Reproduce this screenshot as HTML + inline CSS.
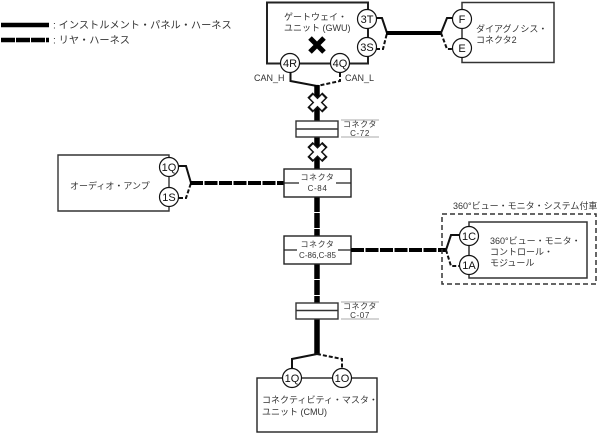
<!DOCTYPE html>
<html><head><meta charset="utf-8"><style>
html,body{margin:0;padding:0;background:#fff}
svg{display:block}
text{font-family:"Liberation Sans","Noto Sans CJK JP",sans-serif;font-size:9px;fill:#333}
.c{fill:#fff;stroke:#111;stroke-width:1.2}
.l{fill:none;stroke:#111;stroke-width:2}
.d{fill:none;stroke:#111;stroke-width:2;stroke-dasharray:4 2}
.t{fill:none;stroke:#000;stroke-width:4}
.td{fill:none;stroke:#000;stroke-width:4.5;stroke-dasharray:13 1.5}
.v{fill:none;stroke:#000;stroke-width:5.5}
.vd{fill:none;stroke:#000;stroke-width:5.5;stroke-dasharray:15 1}
.g{stroke:#aaa;stroke-width:1}
.m{text-anchor:middle}
.s{font-size:8px;letter-spacing:.6px}
.n{font-size:11px;text-anchor:middle;fill:#111}
.xo{stroke:#111;stroke-width:7.5;fill:none}
.xi{stroke:#fff;stroke-width:4.5;fill:none}
</style></head><body>
<svg width="602" height="433" viewBox="0 0 602 433" xmlns="http://www.w3.org/2000/svg">
<line x1="1" y1="25" x2="49" y2="25" class="t" style="stroke-width:4.5"/>
<line x1="1" y1="40" x2="49" y2="40" class="td" style="stroke-dasharray:14 1"/>
<text x="53" y="28.500" style="font-size:10.200px">: インストルメント・パネル・ハーネス</text>
<text x="53" y="43.500" style="font-size:10.200px">: リヤ・ハーネス</text>

<!-- GWU -->
<rect x="267" y="2.500" width="101" height="61" fill="#fff" stroke="#222" stroke-width="2"/>
<text x="284" y="20">ゲートウェイ・</text>
<text x="284" y="31">ユニット (GWU)</text>
<path d="M310 38 L324 52 M324 38 L310 52" stroke="#000" stroke-width="5" fill="none"/>
<path d="M376 18 H382 L387 33" class="l"/>
<path d="M376 49 H383 L387 33" class="d"/>
<line x1="386" y1="33" x2="442" y2="33" class="t"/>
<circle cx="367" cy="19" r="9.500" class="c"/><text x="367" y="23" class="n">3T</text>
<circle cx="367" cy="47" r="9.500" class="c"/><text x="367" y="51" class="n">3S</text>
<circle cx="290" cy="63" r="9.500" class="c"/><text x="290" y="67" class="n">4R</text>
<circle cx="340" cy="63" r="9.500" class="c"/><text x="340" y="67" class="n">4Q</text>
<text x="254" y="81">CAN_H</text>
<text x="345" y="81">CAN_L</text>
<path d="M290.500 73 V81 L317 86" class="l"/>
<path d="M340 73 V81 L317 86" class="d"/>
<line x1="317" y1="85" x2="317" y2="121" class="v"/>
<line x1="317" y1="137" x2="317" y2="169" class="v"/>
<path d="M310 95 L325 110 M325 95 L310 110" class="xo"/>
<path d="M311.500 96.500 L323.500 108.500 M323.500 96.500 L311.500 108.500" class="xi"/>
<path d="M310 144.500 L325 159.500 M325 144.500 L310 159.500" class="xo"/>
<path d="M311.500 146 L323.500 158 M323.500 146 L311.500 158" class="xi"/>

<!-- Diagnosis -->
<path d="M462 2.500 H554 V62.500 H462 Z" fill="#fff" stroke="#333" stroke-width="1.500"/>
<path d="M441 33 L447 18 H454" class="l"/>
<path d="M441 33 L447 49 H454" class="d"/>
<circle cx="462" cy="19" r="9.500" class="c"/><text x="462" y="23" class="n">F</text>
<circle cx="462" cy="48" r="9.500" class="c"/><text x="462" y="52" class="n">E</text>
<text x="476" y="32">ダイアグノシス・</text>
<text x="476" y="43">コネクタ2</text>

<!-- C-72 -->
<rect x="296" y="121" width="42" height="16" fill="#fff" stroke="#333" stroke-width="1.400"/>
<line x1="296" y1="129" x2="338" y2="129" stroke="#333" stroke-width="1.400"/>
<line x1="341" y1="120" x2="379" y2="120" class="g"/><line x1="341" y1="137" x2="379" y2="137" class="g"/>
<text x="360" y="127" class="m s">コネクタ</text>
<text x="360" y="136" class="m s">C-72</text>

<!-- Audio -->
<path d="M169 155 H58 V211 H169 Z" fill="#fff" stroke="#333" stroke-width="1.400"/>
<text x="70" y="189">オーディオ・アンプ</text>
<path d="M179 166 H186 L191 183" class="l"/>
<path d="M179 198 H186 L191 183" class="d"/>
<line x1="190" y1="183" x2="284" y2="183" class="td" style="stroke-width:4"/>
<circle cx="169" cy="167" r="9.500" class="c"/><text x="169" y="171" class="n">1Q</text>
<circle cx="169" cy="197" r="9.500" class="c"/><text x="169" y="201" class="n">1S</text>

<line x1="317" y1="197" x2="317" y2="236" class="vd"/>
<line x1="317" y1="264" x2="317" y2="303" class="vd"/>
<line x1="317" y1="319" x2="317" y2="355" class="v"/>

<!-- C-84 -->
<rect x="284" y="169" width="67" height="28" fill="#fff" stroke="#222" stroke-width="1.400"/>
<path d="M284 183 H299 M336 183 H351" stroke="#222" stroke-width="1.200"/>
<text x="317.500" y="180" class="m s">コネクタ</text>
<text x="317.500" y="191" class="m s">C-84</text>

<!-- C-86 -->
<rect x="284" y="236" width="67" height="28" fill="#fff" stroke="#222" stroke-width="1.400"/>
<path d="M284 250 H297 M338 250 H351" stroke="#222" stroke-width="1.200"/>
<text x="317.500" y="247" class="m s">コネクタ</text>
<text x="317.500" y="258" class="m" style="font-size:8px">C-86,C-85</text>
<line x1="351" y1="250" x2="447" y2="250" class="td" style="stroke-width:4"/>

<!-- 360 -->
<text x="453" y="209">360°ビュー・モニタ・システム付車</text>
<rect x="442" y="214" width="154" height="70" fill="none" stroke="#333" stroke-width="1.500" stroke-dasharray="5 3"/>
<path d="M469 222 H587 V278 H469 Z" fill="#fff" stroke="#333" stroke-width="1.500"/>
<path d="M446 250 L451 235 H460" class="l"/>
<path d="M446 250 L451 266 H460" class="d"/>
<circle cx="469" cy="236" r="9.500" class="c"/><text x="469" y="240" class="n">1C</text>
<circle cx="469" cy="265" r="9.500" class="c"/><text x="469" y="269" class="n">1A</text>
<text x="490" y="244">360°ビュー・モニタ・</text>
<text x="490" y="255">コントロール・</text>
<text x="490" y="266">モジュール</text>

<!-- C-07 -->
<rect x="296" y="303" width="42" height="16" fill="#fff" stroke="#333" stroke-width="1.400"/>
<line x1="296" y1="310.500" x2="338" y2="310.500" stroke="#333" stroke-width="1.400"/>
<line x1="341" y1="302" x2="379" y2="302" class="g"/><line x1="341" y1="319" x2="379" y2="319" class="g"/>
<text x="360" y="309" class="m s">コネクタ</text>
<text x="360" y="318" class="m s">C-07</text>

<!-- CMU -->
<rect x="257" y="378" width="120" height="54" fill="#fff" stroke="#222" stroke-width="1.400"/>
<path d="M317 354 L292 359 V368" class="l"/>
<path d="M317 354 L342 359 V368" class="d"/>
<circle cx="292" cy="378" r="9.500" class="c"/><text x="292" y="382" class="n">1Q</text>
<circle cx="342" cy="378" r="9.500" class="c"/><text x="342" y="382" class="n">1O</text>
<text x="262" y="403">コネクティビティ・マスタ・</text>
<text x="262" y="415">ユニット (CMU)</text>
</svg>
</body></html>
